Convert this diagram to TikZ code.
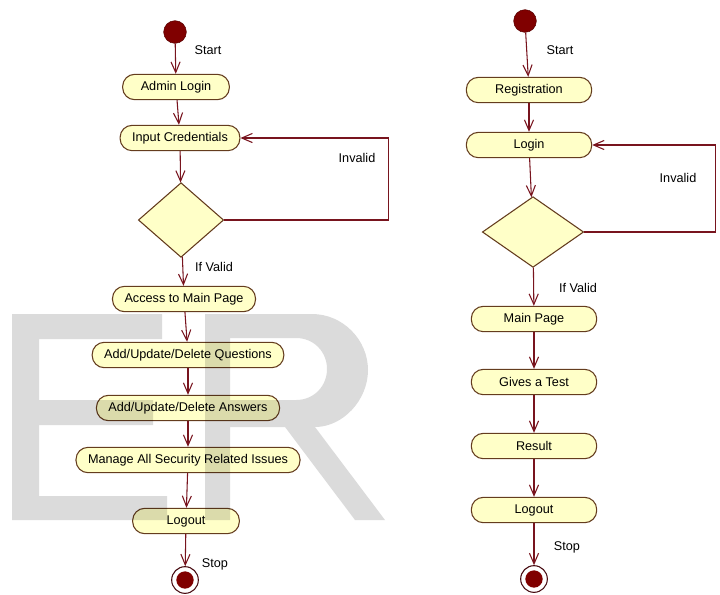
\documentclass[tikz,border=0pt]{standalone}
\usepackage{fontspec}
\setmainfont{Liberation Sans}
\usepackage{xcolor}
\usepackage{tikz}
\usetikzlibrary{shapes.geometric,arrows.meta}

\definecolor{umlline}{RGB}{120,20,30}
\definecolor{umlbox}{RGB}{255,255,200}
\definecolor{umledge}{RGB}{100,60,30}
\definecolor{umldot}{RGB}{128,0,0}

\tikzset{
  act/.style={draw=umledge, line width=0.8pt, fill=umlbox, rounded corners=9pt, minimum height=19pt,
    minimum width=80pt, inner xsep=9pt, inner ysep=0pt},
  actr/.style={act, minimum width=94pt},
  decide/.style={diamond, draw=umledge, line width=0.8pt, fill=umlbox, inner sep=0pt},
  flow/.style={draw=umlline, line width=0.8pt, -{Straight Barb[length=2.8mm,width=2.4mm]}},
  startdot/.style={circle, fill=umldot, draw=umldot!70!black, minimum size=17pt, inner sep=0pt},
  stopring/.style={circle, draw=umlline!60!black, line width=0.8pt, fill=white, minimum size=20pt, inner sep=0pt},
  stopdot/.style={circle, fill=umldot, minimum size=13pt, inner sep=0pt},
  lab/.style={inner sep=0pt}
}

\begin{document}
\begin{tikzpicture}[x=0.75pt,y=-0.75pt,font=\fontsize{9.5}{11}\selectfont]
  \useasboundingbox (0,0) rectangle (720,594);
  % admin side
  \node[startdot] (st1) at (175,32) {};
  \node[lab] (st1lab) at (208,50) {Start};
  \node[act] (admin) at (176,87) {Admin Login};
  \node[act] (cred) at (180,138) {Input Credentials};
  \node[decide, minimum width=64pt, minimum height=56pt] (chk1) at (181,220) {};
  \node[lab] (inv1) at (357,158) {Invalid};
  \node[lab] (ok1) at (214,267) {If Valid};
  \node[act] (mainpg1) at (184,299) {Access to Main Page};
  \node[act] (ques) at (188,355) {Add/Update/Delete Questions};
  \node[act] (ans) at (188,408) {Add/Update/Delete Answers};
  \node[act] (secur) at (188,460) {Manage All Security Related Issues};
  \node[act] (out1) at (186,521) {Logout};
  \node[lab] (end1lab) at (215,564) {Stop};
  \node[stopring] (end1) at (185,580) {};
  \node[stopdot] (end1dot) at (end1) {};
  \draw[flow] (st1) -- (admin);
  \foreach \a/\b in {admin/cred, cred/chk1, chk1/mainpg1, mainpg1/ques, ques/ans, ans/secur, secur/out1, out1/end1}
    \draw[flow] (\a) -- (\b);
  \draw[flow] (chk1.east) -- ++(164,0) |- (cred.east);

  % student side
  \node[startdot] (st2) at (525,21) {};
  \node[lab] (st2lab) at (560,50) {Start};
  \node[actr] (reg) at (529,90) {Registration};
  \node[actr] (login) at (529,145) {Login};
  \node[decide, minimum width=76pt, minimum height=53pt] (chk2) at (533,232) {};
  \node[lab] (inv2) at (678,178) {Invalid};
  \node[lab] (ok2) at (578,288) {If Valid};
  \foreach \n/\y/\lab in {mainpg2/319/Main Page, test/382/Gives a Test, result/446/Result, out2/510/Logout}
    \node[actr] (\n) at (534,\y) {\lab};
  \node[lab] (end2lab) at (567,547) {Stop};
  \node[stopring] (end2) at (534,579) {};
  \node[stopdot] (end2dot) at (end2) {};
  \foreach \a/\b in {st2/reg, reg/login, login/chk2, chk2/mainpg2, mainpg2/test, test/result, result/out2, out2/end2}
    \draw[flow] (\a) -- (\b);
  \draw[flow] (chk2.east) -- ++(131,0) |- (login.east);

  % watermark letters
  \fill[black, fill opacity=0.14] (12,314) -- (162,314) -- (162,339) -- (39,339) -- (39,400)
    -- (153,400) -- (153,425) -- (39,425) -- (39,496) -- (167,496) -- (167,520) -- (12,520) -- cycle;
  \fill[black, fill opacity=0.14, even odd rule] (205,314) -- (312,314)
    .. controls (343,314) and (368,340) .. (368,370)
    .. controls (368,400) and (343,427) .. (315,427)
    -- (385,520) -- (355,520) -- (285,427) -- (230,427) -- (230,520) -- (205,520) -- cycle
    (230,338) -- (296,338) .. controls (314,338) and (327,352) .. (327,369)
    .. controls (327,386) and (314,400) .. (296,400) -- (230,400) -- cycle;
\end{tikzpicture}
\end{document}
